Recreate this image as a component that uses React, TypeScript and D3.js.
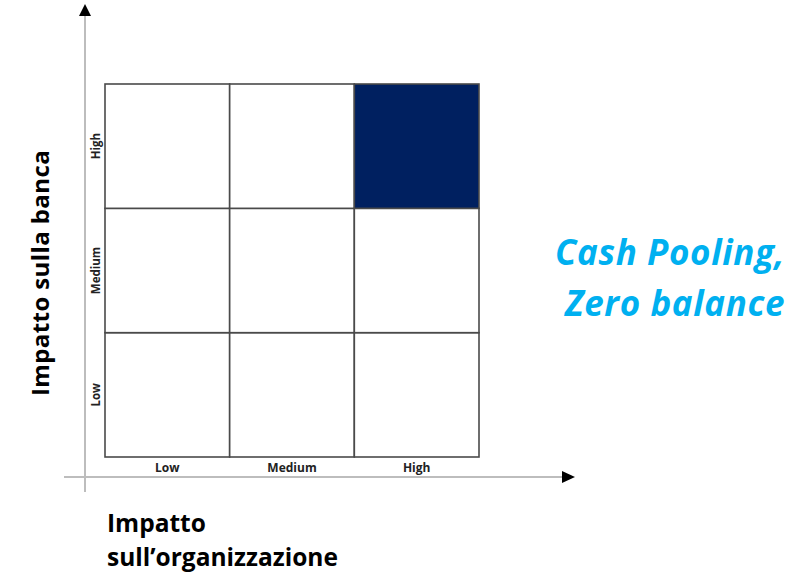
import * as d3 from "d3";

const levels = ["Low", "Medium", "High"];
const highlighted: [string, string][] = [["High", "High"]]; // [x, y]
const xTitle = ["Impatto", "sull\u2019organizzazione"];
const yTitle = "Impatto sulla banca";
const note = ["Cash Pooling,", "Zero balance"];

const W = 802;
const H = 577;
const FONT = "'Open Sans', Lato, sans-serif";

function App() {
  const x = d3.scaleBand<string>().domain(levels).range([105, 479]);
  const y = d3.scaleBand<string>().domain(levels).range([457, 84]);
  const bw = x.bandwidth();
  const bh = y.bandwidth();

  const cells = levels.flatMap((cx) => levels.map((cy) => ({ cx, cy })));
  const isHi = (cx: string, cy: string) =>
    highlighted.some(([a, b]) => a === cx && b === cy);

  return (
    <svg
      width={W}
      height={H}
      style={{ position: "absolute", left: 0, top: 0, background: "#fff" }}
      fontFamily={FONT}
    >
      {/* axes with arrows */}
      <line x1={85} y1={14} x2={85} y2={492} stroke="#bdbdbd" strokeWidth={2} />
      <path d="M79,16 L85,4 L91,16 Z" fill="#000" />
      <line x1={64} y1={477} x2={564} y2={477} stroke="#bdbdbd" strokeWidth={2} />
      <path d="M562,471 L575,477 L562,483 Z" fill="#000" />

      {/* grid cells */}
      {cells.map(({ cx, cy }) => (
        <rect
          key={cx + cy}
          x={x(cx)}
          y={y(cy)}
          width={bw}
          height={bh}
          fill={isHi(cx, cy) ? "#002060" : "#fff"}
          stroke="#4a4a4a"
          strokeWidth={1.6}
        />
      ))}

      {/* x tick labels */}
      {levels.map((l) => (
        <text
          key={"x" + l}
          x={(x(l) as number) + bw / 2}
          y={472}
          textAnchor="middle"
          fontSize={12}
          fontWeight="bold"
          fill="#222"
        >
          {l}
        </text>
      ))}

      {/* y tick labels */}
      {levels.map((l) => (
        <text
          key={"y" + l}
          transform={`translate(100,${(y(l) as number) + bh / 2}) rotate(-90)`}
          textAnchor="middle"
          fontSize={11.5}
          fontWeight="bold"
          fill="#222"
        >
          {l}
        </text>
      ))}

      {/* axis titles */}
      <text
        transform="translate(49,273) rotate(-90)"
        textAnchor="middle"
        fontSize={24}
        fontWeight="bold"
        letterSpacing={0.4}
        fill="#000"
      >
        {yTitle}
      </text>
      {xTitle.map((t, i) => (
        <text
          key={t}
          x={107}
          y={532 + i * 34}
          fontSize={24.5}
          fontWeight="bold"
          fill="#000"
        >
          {t}
        </text>
      ))}

      {/* note */}
      {note.map((t, i) => (
        <text
          key={t}
          x={785}
          y={265 + i * 51}
          textAnchor="end"
          fontSize={35}
          fontStyle="italic"
          fontWeight="bold"
          letterSpacing={0.6}
          fill="#00b0f0"
        >
          {t}
        </text>
      ))}
    </svg>
  );
}

export default App;
